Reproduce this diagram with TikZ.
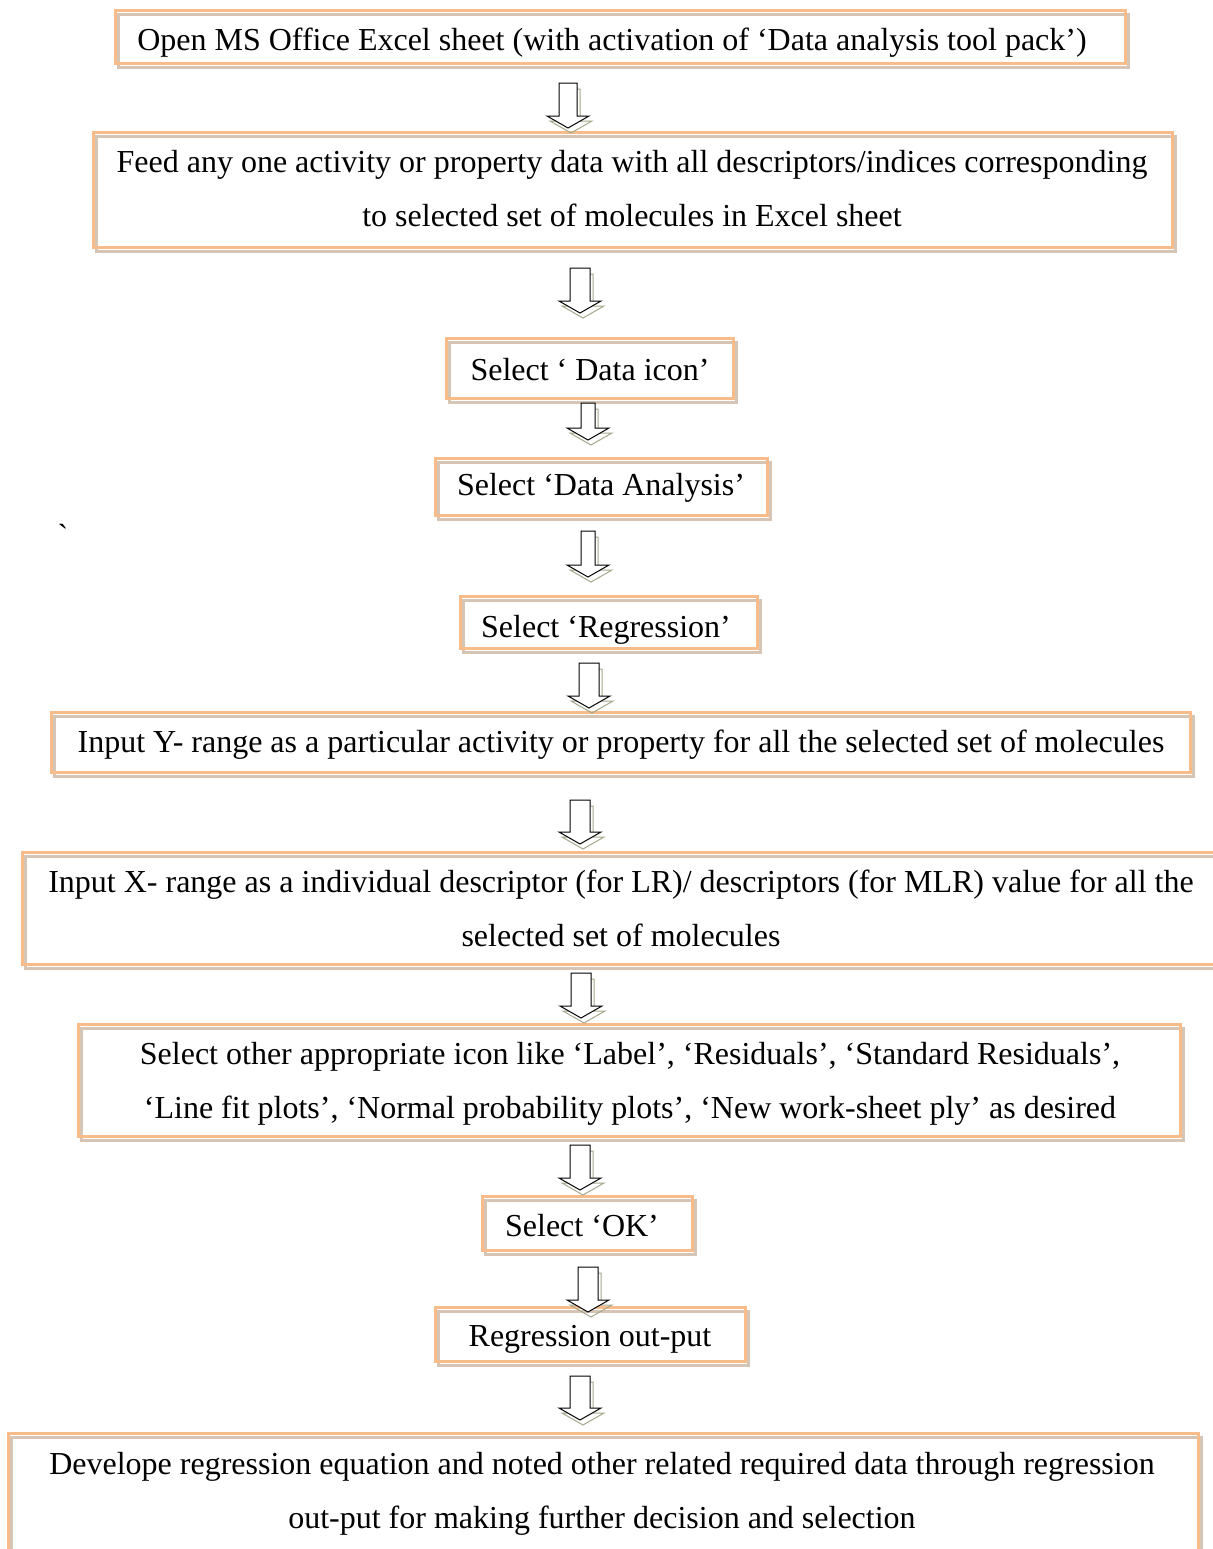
\documentclass[tikz,border=0pt]{standalone}
\usepackage{fontspec}
\setmainfont{Liberation Serif}
\usetikzlibrary{fit}
\definecolor{boxorange}{HTML}{F7BC8A}
\definecolor{boxshadow}{HTML}{D6C4B4}
\definecolor{arrshadow}{HTML}{A3A88A}
\tikzset{
  box/.style={draw=boxorange, line width=1.5pt, inner sep=0pt,
    preaction={draw=boxshadow, line width=1.5pt, transform canvas={shift={(1.6pt,-2.1pt)}}}},
  txt/.style={font=\fontsize{16}{27}\selectfont, inner sep=0pt, align=center},
  arrline/.style={draw=black, line width=0.5pt, fill=white, line join=miter},
  arrshade/.style={draw=arrshadow, line width=0.5pt},
}
\newcommand\blockarr[5]{% cx, top, tip, shaft half width, name
  \draw[arrshade] ({#1+3-#4},{#2+6}) -- ({#1+3+#4},{#2+6}) -- ({#1+3+#4},{#3+5-12}) -- ({#1+3+21},{#3+5-12}) -- ({#1+3},{#3+5}) -- ({#1+3-21},{#3+5-12}) -- ({#1+3-#4},{#3+5-12}) -- cycle;
  \draw[arrline] ({#1-#4},{#2}) coordinate (#5top) -- ({#1+#4},{#2}) -- ({#1+#4},{#3-12}) -- ({#1+21},{#3-12}) -- ({#1},{#3}) coordinate (#5tip) -- ({#1-21},{#3-12}) -- ({#1-#4},{#3-12}) -- cycle;
}
\begin{document}
\begin{tikzpicture}[x=0.5pt,y=-0.5pt]
\useasboundingbox (0,0) rectangle (1212,1549);
\fill[white] (0,0) rectangle (1212,1549);

% boxes
\node[box, fit={(115,10) (1125,63)}] (b1) {};
\node[box, fit={(93,132) (1172,247)}] (b2) {};
\node[box, fit={(446,338) (733,398)}] (b3) {};
\node[box, fit={(435,458) (767,515)}] (b4) {};
\node[box, fit={(460,596) (757,648)}] (b5) {};
\node[box, fit={(51,712) (1190,772)}] (b6) {};
\node[box, fit={(22,852) (1225,964)}] (b7) {};
\node[box, fit={(78,1024) (1180,1136)}] (b8) {};
\node[box, fit={(482,1196) (692,1250)}] (b9) {};
\node[box, fit={(435,1307) (745,1361)}] (b10) {};
\node[box, fit={(8,1433) (1198,1570)}] (b11) {};

% texts (two-line texts are anchored at the baseline of their last line)
\node[txt, anchor=base] (t1) at (612,50) {Open MS Office Excel sheet (with activation of ‘Data analysis tool pack’)};
\node[txt, anchor=base] (t2) at (632,226) {Feed any one activity or property data with all descriptors/indices corresponding\\to selected set of molecules in Excel sheet};
\node[txt, anchor=base] (t3) at (590,380) {Select ‘ Data icon’};
\node[txt, anchor=base] (t4) at (601,495) {Select ‘Data Analysis’};
\node[txt, anchor=base] (t5) at (606,637) {Select ‘Regression’};
\node[txt, anchor=base] (t6) at (621,752) {Input Y- range as a particular activity or property for all the selected set of molecules};
\node[txt, anchor=base] (t7) at (621,946) {Input X- range as a individual descriptor (for LR)/ descriptors (for MLR) value for all the\\selected set of molecules};
\node[txt, anchor=base] (t8) at (630,1118) {Select other appropriate icon like ‘Label’, ‘Residuals’, ‘Standard Residuals’,\\‘Line fit plots’, ‘Normal probability plots’, ‘New work-sheet ply’ as desired};
\node[txt, anchor=base] (t9) at (582,1236) {Select ‘OK’};
\node[txt, anchor=base] (t10) at (590,1346) {Regression out-put};
\node[txt, anchor=base] (t11) at (602,1528) {Develope regression equation and noted other related required data through regression\\out-put for making further decision and selection};
\node[txt, anchor=base] (tick) at (63,546) {\textasciigrave};

% block arrows
\blockarr{568}{83}{128}{9}{a1}
\blockarr{580}{268}{313}{10}{a2}
\blockarr{588}{403}{440}{7}{a3}
\blockarr{588}{531}{577}{7}{a4}
\blockarr{589}{663}{708}{10}{a5}
\blockarr{580}{800}{844}{10}{a6}
\blockarr{581}{973}{1018}{10}{a7}
\blockarr{580}{1145}{1190}{10}{a8}
\blockarr{588}{1267}{1312}{10}{a9}
\blockarr{580}{1376}{1420}{10}{a10}
\end{tikzpicture}
\end{document}
